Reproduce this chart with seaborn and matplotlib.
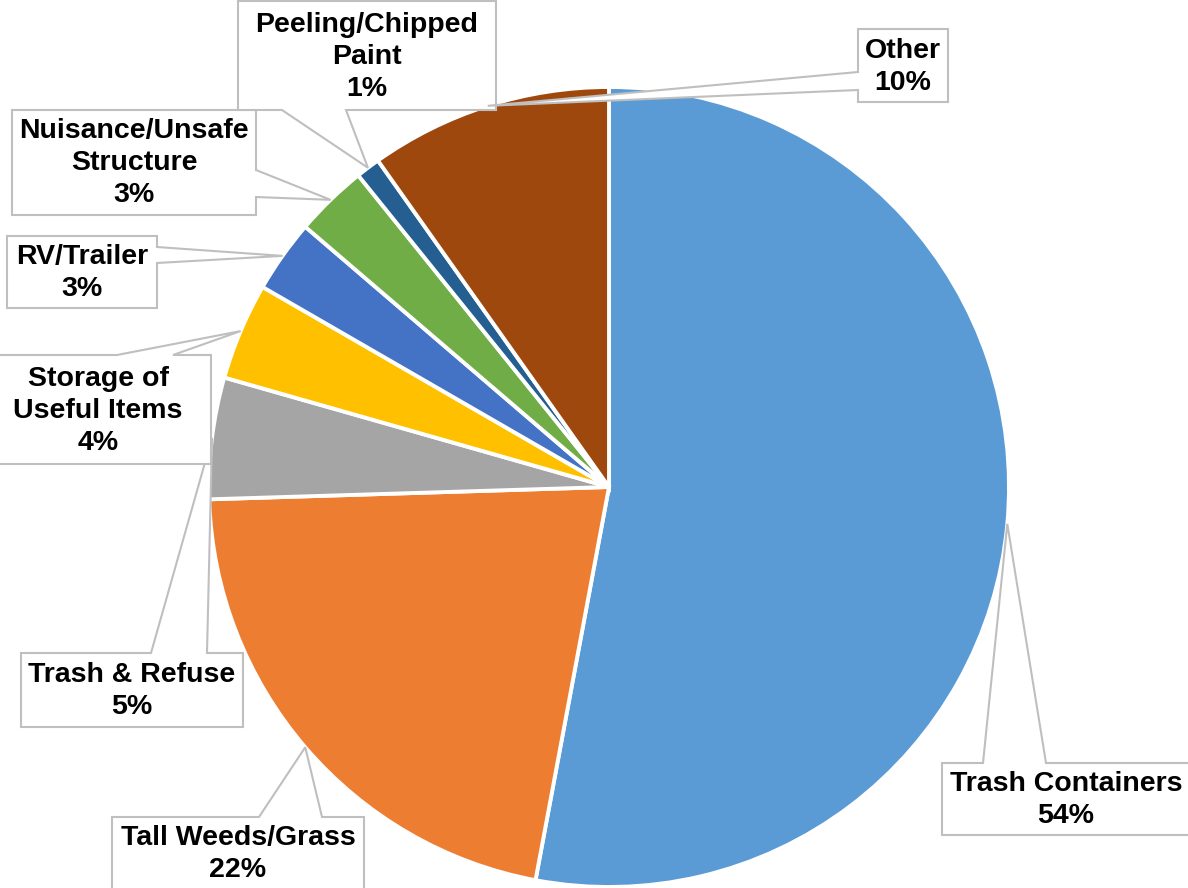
import matplotlib
matplotlib.use("Agg")
import matplotlib.pyplot as plt
from matplotlib.patches import Polygon
import numpy as np
import seaborn as sns

# Share of code-enforcement cases by violation type (percent)
categories = [
    "Trash Containers",
    "Tall Weeds/Grass",
    "Trash & Refuse",
    "Storage of\nUseful Items",
    "RV/Trailer",
    "Nuisance/Unsafe\nStructure",
    "Peeling/Chipped\nPaint",
    "Other",
]
percents = [54, 22, 5, 4, 3, 3, 1, 10]
colors = ["#5B9BD5", "#ED7D31", "#A5A5A5", "#FFC000",
          "#4472C4", "#70AD47", "#255E91", "#9E480E"]

# Callout layout in pixel space (y measured from the top):
# box (x0, y0, x1, y1), text centre, side carrying the pointer, pointer base span
callouts = [
    ((942, 763, 1190, 835), (1066, 800), "top", (983, 1046)),
    ((112, 817, 364, 895), (238, 854), "top", (259, 322)),
    ((21, 653, 243, 727), (132, 691), "top", (151, 207)),
    ((-15, 355, 211, 464), (98, 411), "top", (117, 173)),
    ((7, 236, 157, 308), (82, 273), "right", (247, 263)),
    ((12, 110, 256, 215), (134, 163), "right", (170, 197)),
    ((238, 1, 496, 110), (367, 57), "bottom", (282, 346)),
    ((858, 29, 948, 102), (903, 67), "left", (72, 90)),
]

W, H = 1188, 888
CX, CY, R = 609, 487, 400

sns.set_theme(style="white")
plt.rcParams["font.family"] = ["Liberation Sans", "DejaVu Sans"]

fig = plt.figure(figsize=(W / 100, H / 100), dpi=100)
ax = fig.add_axes([0, 0, 1, 1])


def to_data(x, y):
    return (x, H - y)


wedges, _ = ax.pie(
    percents,
    colors=colors,
    startangle=90,
    counterclock=False,
    center=to_data(CX, CY),
    radius=R,
    wedgeprops=dict(edgecolor="white", linewidth=2.8),
    frame=True,
)

for w, name, pct, (box, tc, side, base) in zip(wedges, categories, percents, callouts):
    mid = np.deg2rad((w.theta1 + w.theta2) / 2)
    cx, cy = to_data(CX, CY)
    tip = (cx + R * np.cos(mid), cy + R * np.sin(mid))
    x0, y0, x1, y1 = box
    a, b = base
    if side == "top":
        pts = [(x0, y0), (a, y0), None, (b, y0), (x1, y0), (x1, y1), (x0, y1)]
    elif side == "right":
        pts = [(x0, y0), (x1, y0), (x1, a), None, (x1, b), (x1, y1), (x0, y1)]
    elif side == "bottom":
        pts = [(x0, y0), (x1, y0), (x1, y1), (b, y1), None, (a, y1), (x0, y1)]
    else:
        pts = [(x0, y0), (x1, y0), (x1, y1), (x0, y1), (x0, b), None, (x0, a)]
    verts = [tip if p is None else to_data(*p) for p in pts]
    ax.add_patch(Polygon(verts, closed=True, facecolor="white",
                         edgecolor="#BFBFBF", linewidth=1.5, zorder=5))
    tx, ty = to_data(*tc)
    ax.text(tx, ty, f"{name}\n{pct}%", ha="center", va="center",
            multialignment="center", fontsize=20.5, fontweight="bold",
            color="black", zorder=6, linespacing=1.32)

ax.set_xlim(0, W)
ax.set_ylim(0, H)
ax.set_aspect("auto")
ax.axis("off")

fig.savefig("out.png", dpi=100, facecolor="white")
